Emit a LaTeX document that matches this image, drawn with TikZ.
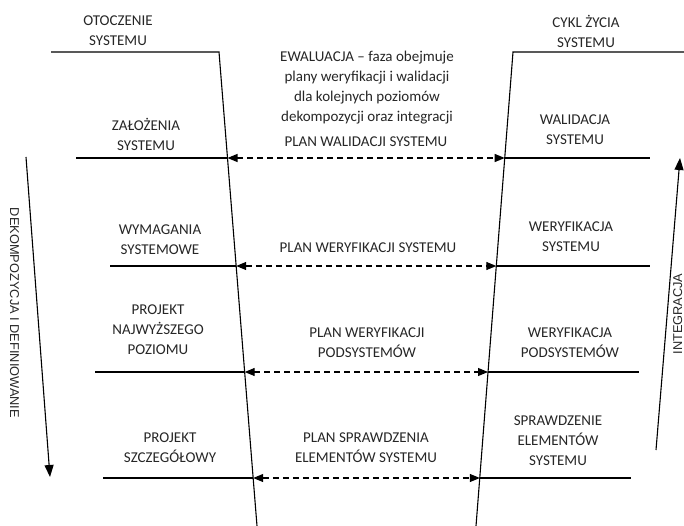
\documentclass[tikz,border=0pt]{standalone}
\usepackage{fontspec}
\setmainfont{Carlito}
\newfontfamily\sidefont{Liberation Sans}
\usetikzlibrary{arrows.meta}

\begin{document}
\begin{tikzpicture}[x=1pt,y=-1pt,line width=1.1pt,
        box text/.style={align=center,inner sep=0pt,text=black!85,
            font=\fontsize{15}{20}\selectfont},
        side text/.style={inner sep=0pt,anchor=base,text=black!85,
            font=\sidefont\fontsize{12.8}{14}\selectfont},
        plan arrow/.style={{Triangle[length=10pt,width=8pt]}-{Triangle[length=10pt,width=8pt]},
            dash pattern=on 6pt off 4pt},
        main arrow/.style={-{Triangle[length=12pt,width=9pt]}}]

        \useasboundingbox (0,0) rectangle (684,526);

        % Define frame corners
        \coordinate (L0) at (51,52);
        \coordinate (LT) at (219,52);
        \coordinate (LB) at (257,526);
        \coordinate (R0) at (684,52);
        \coordinate (RT) at (513,52);
        \coordinate (RB) at (476,526);

        % Define level ends (outer) and points on the slanted lines (inner)
        \coordinate (l1) at (76,158);   \coordinate (a1) at (227.5,158);
        \coordinate (b1) at (504.7,158); \coordinate (r1) at (650,158);
        \coordinate (l2) at (110,266);  \coordinate (a2) at (236.2,266);
        \coordinate (b2) at (496.3,266); \coordinate (r2) at (650,266);
        \coordinate (l3) at (95,372);   \coordinate (a3) at (244.7,372);
        \coordinate (b3) at (488,372);  \coordinate (r3) at (639,372);
        \coordinate (l4) at (103,478);  \coordinate (a4) at (253.2,478);
        \coordinate (b4) at (479.8,478); \coordinate (r4) at (631,478);

        % Define side arrow ends
        \coordinate (dtop) at (26,157);
        \coordinate (dbot) at (50,477);
        \coordinate (ibot) at (656,450);
        \coordinate (itop) at (680,158);

        % Define labels
        \node[box text] (otoczenie) at (118,31) {OTOCZENIE\\SYSTEMU};
        \node[box text] (cykl) at (586,31) {CYKL ŻYCIA\\SYSTEMU};
        \node[box text] (ewaluacja) at (367,88) {EWALUACJA – faza obejmuje\\plany weryfikacji i walidacji\\dla kolejnych poziomów\\dekompozycji oraz integracji};

        \node[box text] (zalozenia) at (146,134) {ZAŁOŻENIA\\SYSTEMU};
        \node[box text] (planwal) at (366,142) {PLAN WALIDACJI SYSTEMU};
        \node[box text] (walidacja) at (575,130) {WALIDACJA\\SYSTEMU};

        \node[box text] (wymagania) at (160,240) {WYMAGANIA\\SYSTEMOWE};
        \node[box text] (planwer) at (368,248) {PLAN WERYFIKACJI SYSTEMU};
        \node[box text] (weryfsys) at (571,237) {WERYFIKACJA\\SYSTEMU};

        \node[box text] (najwyzszy) at (158,330) {PROJEKT\\NAJWYŻSZEGO\\POZIOMU};
        \node[box text] (planpod) at (367,343) {PLAN WERYFIKACJI\\PODSYSTEMÓW};
        \node[box text] (weryfpod) at (570,343) {WERYFIKACJA\\PODSYSTEMÓW};

        \node[box text] (szczegolowy) at (170,448) {PROJEKT\\SZCZEGÓŁOWY};
        \node[box text] (planspr) at (366,448) {PLAN SPRAWDZENIA\\ELEMENTÓW SYSTEMU};
        \node[box text] (sprawdzenie) at (558,441) {SPRAWDZENIE\\ELEMENTÓW\\SYSTEMU};

        \node[side text,rotate=-90] (dekompozycja) at (10,313) {DEKOMPOZYCJA I DEFINIOWANIE};
        \node[side text,rotate=90] (integracja) at (682,314) {INTEGRACJA};

        % Draw frame
        \draw (L0) -- (LT) -- (LB);
        \draw (R0) -- (RT) -- (RB);

        % Draw levels
        \foreach \i in {1,...,4} {
            \draw (l\i) -- (a\i);
            \draw (b\i) -- (r\i);
            \draw[plan arrow] (a\i) -- (b\i);
        }

        % Draw side arrows
        \draw[main arrow] (dtop) -- (dbot);
        \draw[main arrow] (ibot) -- (itop);

        \end{tikzpicture}
\end{document}
